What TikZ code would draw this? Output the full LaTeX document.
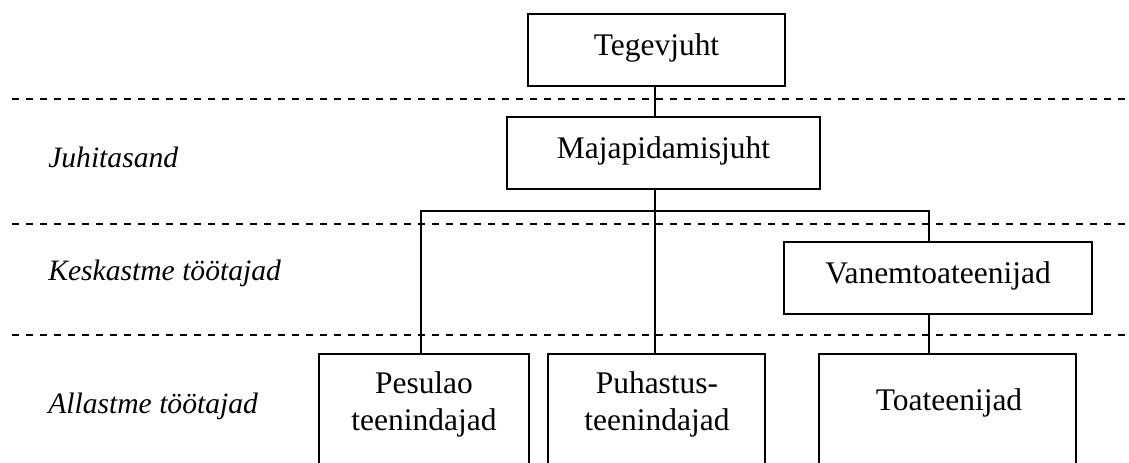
\documentclass[tikz,border=0pt]{standalone}
\usepackage{fontspec}
\setmainfont{Liberation Serif}
\begin{document}
\begin{tikzpicture}[x=0.75pt,y=-0.75pt,
  box/.style={draw, line width=1.1pt, inner sep=0pt, font=\fontsize{23.6}{27.75}\selectfont,
    text height=15pt, text depth=7.5pt, minimum height=54pt},
  openbox/.style={draw, line width=1.1pt, inner sep=0pt, minimum height=109.5pt},
  boxtext/.style={inner sep=0pt, align=center, font=\fontsize{23.6}{27.75}\selectfont},
  level/.style={inner sep=0pt, anchor=base west, font=\fontsize{22.2}{26}\selectfont\itshape},
  sep/.style={line width=0.9pt, dash pattern=on 5.25pt off 5.25pt},
  conn/.style={line width=0.9pt}]
\useasboundingbox (0,0) rectangle (1129,462);
\clip (0,0) rectangle (1129,462);
% separators
\coordinate (d1L) at (12,99);  \coordinate (d1R) at (1127,99);
\coordinate (d2L) at (12,224); \coordinate (d2R) at (1127,224);
\coordinate (d3L) at (12,335); \coordinate (d3R) at (1127,335);
\draw[sep] (d1L) -- (d1R);
\draw[sep] (d2L) -- (d2R);
\draw[sep] (d3L) -- (d3R);
% level labels
\node[level] (lj) at (48,167) {Juhitasand};
\node[level] (lk) at (48,280) {Keskastme töötajad};
\node[level] (la) at (48,413) {Allastme töötajad};
% boxes
\node[box, minimum width=192.75pt] (teg) at (656.5,50) {Tegevjuht};
\node[box, minimum width=234.75pt] (maj) at (663.5,153) {Majapidamisjuht};
\node[box, minimum width=231pt] (van) at (938,278) {Vanemtoateenijad};
\node[openbox, minimum width=157.5pt] (pes) at (424,427) {};
\node[openbox, minimum width=162.75pt] (puh) at (656.5,427) {};
\node[openbox, minimum width=192.75pt] (toa) at (947.5,427) {};
\node[boxtext] (pest) at (424,404) {Pesulao\\teenindajad};
\node[boxtext] (puht) at (657,404) {Puhastus-\\teenindajad};
\node[boxtext, text height=15pt, text depth=7.5pt] (toat) at (949,405) {Toateenijad};
% connectors
\coordinate (bL) at (421,211);
\coordinate (bR) at (929,211);
\draw[conn] (teg.south -| 655,0) -- (maj.north -| 655,0);
\draw[conn] (maj.south -| 655,0) -- (puh.north -| 655,0);
\draw[conn] (pes.north -| bL) -- (bL) -- (bR) -- (van.north -| bR);
\draw[conn] (van.south -| bR) -- (toa.north -| bR);
\end{tikzpicture}
\end{document}
